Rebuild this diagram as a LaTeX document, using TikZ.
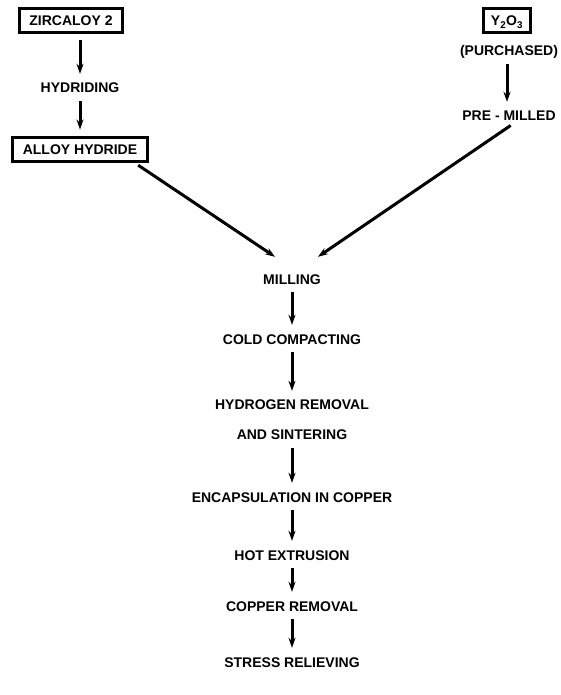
\documentclass[tikz,border=0pt]{standalone}
\usepackage{fontspec}
\setmainfont{Liberation Sans}
\usepackage{pgf,tikz}
\usetikzlibrary{arrows.meta,positioning,calc}

\begin{document}
\begin{tikzpicture}[x=1pt,y=-1pt,
    stage/.style={font=\bfseries\fontsize{14}{16}\selectfont, text height=10pt, text depth=0pt, inner sep=2pt},
    stockbox/.style={stage, draw=black, line width=3pt, inner xsep=10pt, inner ysep=7pt},
    flow/.style={line width=3pt, -{Stealth[length=10pt,width=7pt]}, shorten <=6pt, shorten >=7pt}]
    \useasboundingbox (0,0) rectangle (561,695);
    % left branch
    \node[stockbox] (zirc) at (71,21) {ZIRCALOY 2};
    \node[stage] (hyd) at (80,88) {HYDRIDING};
    \node[stockbox] (hydride) at (80,150) {ALLOY HYDRIDE};
    % right branch
    \node[stockbox, inner xsep=7pt] (yox) at (507,21) {Y\textsubscript{2}O\textsubscript{3}};
    \node[stage] (purch) at (509,51) {(PURCHASED)};
    \node[stage] (premil) at (509,116) {PRE - MILLED};
    % main line
    \node[stage] (mill) at (292,279) {MILLING};
    \node[stage] (cold) at (292,339) {COLD COMPACTING};
    \node[stage, text height=, text depth=, align=center, font=\bfseries\fontsize{14}{30}\selectfont] (sinter) at (292,420) {HYDROGEN REMOVAL\\AND SINTERING};
    \node[stage] (encap) at (292,497) {ENCAPSULATION IN COPPER};
    \node[stage] (hot) at (292,555) {HOT EXTRUSION};
    \node[stage] (cuoff) at (292,606) {COPPER REMOVAL};
    \node[stage] (stress) at (292,662) {STRESS RELIEVING};

    \path [flow](zirc.south -| hyd) edge (hyd);
    \path [flow](hyd) edge (hydride);
    \path [flow](purch.south -| yox) edge (premil.north -| yox);
    \path [flow, shorten <=3pt, shorten >=0pt]([xshift=-13pt]hydride.south east) edge ([shift={(14pt,15pt)}]mill.north west);
    \path [flow, shorten <=4pt, shorten >=0pt]([xshift=5pt]premil.south) edge ([shift={(-5pt,15pt)}]mill.north east);
    \path [flow](mill) edge (cold);
    \path [flow](cold) edge (sinter);
    \path [flow](sinter) edge (encap);
    \path [flow](encap) edge (hot);
    \path [flow](hot) edge (cuoff);
    \path [flow](cuoff) edge (stress);
\end{tikzpicture}
\end{document}
